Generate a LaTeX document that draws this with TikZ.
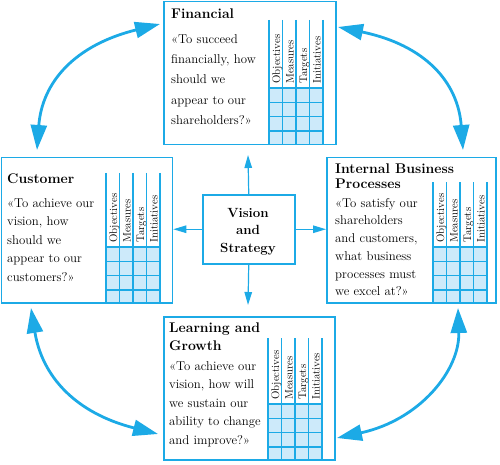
\documentclass[tikz,border=0pt]{standalone}
\usepackage{fontspec}
\usetikzlibrary{arrows.meta,calc}
\definecolor{bscblue}{RGB}{28,170,230}
\definecolor{bscfill}{RGB}{205,234,250}
\tikzset{
  box/.style={draw=bscblue, line width=1.5pt, rectangle, inner sep=0pt, anchor=north west},
  gridline/.style={draw=bscblue, line width=1.4pt},
  hdr/.style={rotate=90, anchor=base west, inner sep=0pt, font=\fontsize{11}{11}\selectfont},
  ttl/.style={anchor=north west, inner sep=0pt, align=left, font=\bfseries\fontsize{14}{15}\selectfont},
  body/.style={anchor=north west, inner sep=0pt, align=left},
  bigarrow/.style={draw=bscblue, line width=2.8pt, {Triangle[length=25pt,width=16pt]}-{Triangle[length=25pt,width=16pt]}},
  smallarrow/.style={draw=bscblue, line width=1.2pt, -{Triangle[length=13pt,width=7.5pt]}}
}
\newcommand\bsctab[5]{%
  \fill[bscfill] (#2,#4) rectangle ({#2+54},#5);
  \foreach \r in {0,1,2,3} \draw[gridline] (#2,{#4+14.3*\r}) -- ({#2+54},{#4+14.3*\r});
  \foreach \c in {0,...,4} \draw[gridline] ({#2+13.5*\c},#3) -- ({#2+13.5*\c},#5);
  \node[hdr] (#1-obj) at ({#2+11},{#4-4}) {Objectives};
  \node[hdr] (#1-mea) at ({#2+24.5},{#4-4}) {Measures};
  \node[hdr] (#1-tar) at ({#2+38},{#4-4}) {Targets};
  \node[hdr] (#1-ini) at ({#2+51.5},{#4-4}) {Initiatives};
}
\begin{document}
\begin{tikzpicture}[x=1pt,y=-1pt]
\useasboundingbox (0,0) rectangle (500,465);
% boxes
\node[box, minimum width=172pt, minimum height=143pt] (F) at (163,1) {};
\node[box, minimum width=171pt, minimum height=145pt] (C) at (0.8,157) {};
\node[box, minimum width=169pt, minimum height=145pt] (I) at (326,157) {};
\node[box, minimum width=171pt, minimum height=143pt] (L) at (163,316) {};
\node[box, minimum width=92pt, minimum height=69pt] (V) at (202,194) {};
% tables
\bsctab{ft}{269}{20}{88}{144}
\bsctab{ct}{106}{173}{247}{302}
\bsctab{it}{433}{182}{247}{302}
\bsctab{lt}{268}{338}{404}{459}
% titles
\node[ttl] (Ft) at (171,7) {\rule{0pt}{11pt}Financial};
\node[ttl] (Ct) at (7,172) {\rule{0pt}{11pt}Customer};
\node[ttl] (It) at (335,162) {\rule{0pt}{11pt}Internal Business\\Processes};
\node[ttl, font=\bfseries\fontsize{14}{18}\selectfont] (Lt) at (169,321) {\rule{0pt}{11pt}Learning and\\Growth};
\node[anchor=north, inner sep=0pt, align=center, font=\bfseries\fontsize{13.3}{17.5}\selectfont] (Vt) at (248,206) {\rule{0pt}{11pt}Vision\\and\\Strategy};
% bodies
\node[body, font=\fontsize{12.8}{20.3}\selectfont] (Fb) at (171,33) {\rule{0pt}{10pt}«To succeed\\financially, how\\should we\\appear to our\\shareholders?»};
\node[body, font=\fontsize{12.8}{18.5}\selectfont] (Cb) at (7,197) {\rule{0pt}{10pt}«To achieve our\\vision, how\\should we\\appear to our\\customers?»};
\node[body, font=\fontsize{12.8}{17.7}\selectfont] (Ib) at (335,197) {\rule{0pt}{10pt}«To satisfy our\\shareholders\\and customers,\\what business\\processes must\\we excel at?»};
\node[body, font=\fontsize{12.8}{18.5}\selectfont] (Lb) at (169,360) {\rule{0pt}{10pt}«To achieve our\\vision, how will\\we sustain our\\ability to change\\and improve?»};
% arrow end points
\coordinate (upTip) at (248,155);
\coordinate (downTip) at (248,305);
\coordinate (tlA) at (37,150);  \coordinate (tlB) at (160,24);
\coordinate (trA) at (463,150); \coordinate (trB) at (338,27);
\coordinate (blA) at (31,308);  \coordinate (blB) at (158,434);
\coordinate (brA) at (458,308); \coordinate (brB) at (337,438);
% straight arrows
\draw[smallarrow] (V.north) -- (upTip);
\draw[smallarrow] (V.south) -- (downTip);
\draw[smallarrow] (V.west) -- (C.east |- V.west);
\draw[smallarrow] (V.east) -- (I.west |- V.east);
% curved arrows
\draw[bigarrow] (tlA) .. controls (42,82) and (75,45) .. (tlB);
\draw[bigarrow] (trA) .. controls (458,82) and (425,45) .. (trB);
\draw[bigarrow] (blA) .. controls (42,376) and (75,413) .. (blB);
\draw[bigarrow] (brA) .. controls (460,370) and (420,420) .. (brB);
\end{tikzpicture}
\end{document}
